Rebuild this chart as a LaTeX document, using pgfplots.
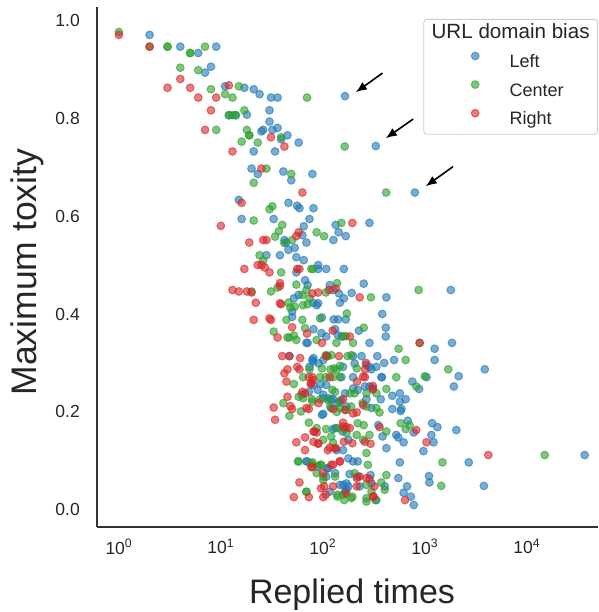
\documentclass[border=0pt]{standalone}
\usepackage{fontspec}
\setmainfont{Liberation Sans}
\usepackage{pgfplots}
\pgfplotsset{compat=1.18}
\usetikzlibrary{arrows.meta}
\definecolor{tabblue}{RGB}{31,119,180}
\definecolor{tabgreen}{RGB}{44,160,44}
\definecolor{tabred}{RGB}{214,39,40}
\definecolor{spine}{RGB}{51,51,51}
\definecolor{txt}{RGB}{38,38,38}
\definecolor{legframe}{RGB}{204,204,204}
\begin{document}
\begin{tikzpicture}
\begin{axis}[
  scale only axis, width=501pt, height=520pt,
  xmode=log, xmin=0.61, xmax=50000, ymin=-0.035, ymax=1.027,
  axis lines*=left,
  axis line style={-, line width=1.7pt, color=spine},
  xtick={1,10,100,1000,10000},
  xticklabels={10\textsuperscript{0},10\textsuperscript{1},10\textsuperscript{2},10\textsuperscript{3},10\textsuperscript{4}},
  minor xtick={},
  ytick={0,0.2,0.4,0.6,0.8,1.0},
  major tick length=0pt,
  tick style={draw=none},
  yticklabel style={/pgf/number format/fixed, /pgf/number format/fixed zerofill,
    /pgf/number format/precision=1, /pgf/number format/assume math mode=true,
    font=\fontsize{17.5}{20}\selectfont, text=txt, inner sep=0pt, xshift=-17pt},
  xticklabel style={font=\fontsize{17.5}{20}\selectfont, text=txt, inner sep=0pt, yshift=-12pt},
  xlabel={Replied times},
  ylabel={Maximum toxity},
  xlabel style={font=\fontsize{34}{39}\selectfont, text=txt, inner sep=0pt,
    at={(axis description cs:0.509,-0.148)}, anchor=base},
  ylabel style={font=\fontsize{35.5}{40}\selectfont, text=txt, inner sep=0pt,
    at={(axis description cs:-0.1198,0.49)}, anchor=base},
  clip=false,
  legend cell align=left,
  legend style={at={(1,1)}, anchor=north east, yshift=-12pt,
    draw=legframe, line width=0.8pt, rounded corners=3pt,
    fill=white, fill opacity=0.8, draw opacity=1, text opacity=1,
    inner xsep=8pt, inner ysep=5.5pt, row sep=9.2pt, column sep=0pt,
    font=\fontsize{18}{20}\selectfont, text=txt,
    nodes={inner sep=0pt, text height=14pt, text depth=4pt}},
  legend image code/.code={\path (0pt,0pt) (77pt,0pt); \draw[#1] plot coordinates {(43pt,6.5pt)};},
  every axis plot/.append style={only marks, mark=*, mark size=3.9pt,
    mark options={fill opacity=0.6, draw opacity=0.6, line width=1pt}},
]
\addlegendimage{empty legend}
% Left
\addplot[color=tabblue] coordinates {
(2,0.97) (4,0.946) (9,0.946) (6,0.933) (7,0.893) (8,0.905) (11,0.865) (17,0.862)
(21,0.859) (24,0.849) (31,0.842) (36,0.842) (165,0.845) (30,0.816) (12,0.806) (14,0.806)
(18,0.807) (30,0.793) (25,0.773) (26,0.776) (32,0.776) (36,0.78) (39,0.757) (45,0.765)
(58,0.75) (21,0.732) (34,0.732) (20,0.697) (23,0.686) (41,0.691) (49,0.673) (79,0.686)
(331,0.743) (800,0.648)
(15,0.633) (46,0.627) (56,0.621) (59,0.616) (81,0.616) (16,0.594) (33,0.594) (74,0.594)
(65,0.579) (134,0.582) (63,0.561) (143,0.567) (168,0.559) (127,0.551) (42,0.551) (44,0.546)
(69,0.546) (46,0.531) (53,0.535) (38,0.52) (28,0.52) (55,0.516) (65,0.51) (55,0.485)
(90,0.5) (90,0.492) (108,0.492) (161,0.492) (67,0.469) (71,0.459) (52,0.432) (58,0.439)
(117,0.459) (126,0.449) (144,0.442) (161,0.432) (147,0.423) (50,0.405) (50,0.394) (80,0.423)
(87,0.418) (90,0.422) (98,0.393) (128,0.389) (141,0.389) (168,0.389) (69,0.341) (71,0.341)
(81,0.369) (97,0.361) (108,0.354) (132,0.369) (153,0.354) (47,0.314) (79,0.306) (81,0.31)
(101,0.306)
(287,0.586) (252,0.462) (192,0.443) (420,0.434) (1800,0.449) (383,0.4) (415,0.372) (415,0.354)
(226,0.366) (140,0.357) (287,0.341) (1250,0.329) (1850,0.341) (198,0.314) (240,0.314) (342,0.314)
(500,0.306) (1250,0.306)
(74,0.292) (91,0.299) (80,0.255) (95,0.257) (108,0.255) (152,0.271) (73,0.241) (89,0.245)
(101,0.235) (113,0.228) (126,0.226) (98,0.194) (101,0.196) (121,0.208) (133,0.167) (156,0.16)
(70,0.099) (111,0.085) (117,0.037) (171,0.054) (178,0.143)
(2150,0.273) (1930,0.252) (3880,0.287) (1040,0.271) (755,0.262) (880,0.247) (380,0.271) (335,0.292)
(400,0.3) (268,0.296) (300,0.287) (480,0.233) (570,0.238) (650,0.226) (480,0.206) (580,0.202)
(590,0.206) (680,0.182) (780,0.158) (525,0.153) (620,0.138) (550,0.148) (1180,0.177) (1330,0.169)
(1160,0.153) (1220,0.138) (970,0.12) (2040,0.163) (37000,0.112) (2700,0.097) (570,0.097) (1100,0.069)
(1110,0.056) (3800,0.049) (550,0.065) (670,0.048) (620,0.035) (730,0.027) (780,0.01) (183,0.073)
(220,0.068) (294,0.071) (158,0.051) (178,0.048) (165,0.037) (330,0.02) (405,0.048) (350,0.173)
(385,0.15) (420,0.126) (300,0.208) (220,0.245) (259,0.252) (310,0.248) (198,0.248) (165,0.238)
(150,0.224) (171,0.211) (80,0.303) (158,0.292) (205,0.299) (287,0.292) (198,0.271) (375,0.271)
(287,0.252) (101,0.228) (121,0.226) (141,0.218) (268,0.226) (370,0.226) (570,0.221)
(126,0.165) (158,0.122) (136,0.122) (69,0.099) (90,0.088) (113,0.085) (108,0.068) (132,0.075)
(178,0.105) (198,0.099) (220,0.099) (171,0.041) (230,0.048) (147,0.051) (300,0.054)
};
% Center
\addplot[color=tabgreen] coordinates {
(1,0.976) (2,0.946) (3,0.946) (3,0.946) (7,0.946) (5,0.933) (5,0.933) (4,0.903)
(6,0.898) (8,0.859) (15,0.865) (11,0.849) (13,0.842) (70,0.842) (17,0.816) (12,0.806)
(13,0.806) (14,0.806) (9,0.776) (18,0.776) (19,0.765) (19,0.765) (39,0.761) (164,0.742)
(16,0.752) (23,0.75) (28,0.697) (21,0.668) (49,0.686) (418,0.648)
(30,0.614) (32,0.62) (21,0.591) (40,0.582) (152,0.586) (37,0.569) (34,0.558) (87,0.567)
(103,0.559) (50,0.551) (42,0.545) (24,0.52) (26,0.509) (39,0.485) (77,0.492) (80,0.492)
(55,0.46) (20,0.446) (31,0.446) (36,0.454) (63,0.439) (74,0.432) (69,0.449) (138,0.463)
(107,0.444) (46,0.423) (48,0.413) (53,0.415) (64,0.418) (71,0.42) (44,0.388) (63,0.388)
(94,0.391) (172,0.401) (33,0.364) (45,0.352) (47,0.352) (52,0.356) (55,0.347) (67,0.371)
(87,0.347) (136,0.341) (168,0.355) (111,0.314) (111,0.314)
(296,0.434) (870,0.449) (252,0.372) (158,0.354) (198,0.341) (554,0.329) (890,0.341) (175,0.314)
(650,0.306)
(52,0.257) (64,0.271) (98,0.289) (119,0.287) (129,0.289) (147,0.294) (94,0.271) (107,0.271)
(126,0.271) (147,0.271) (58,0.231) (64,0.228) (78,0.226) (94,0.226) (132,0.241) (124,0.245)
(41,0.218) (47,0.192) (61,0.201) (79,0.221) (137,0.2) (171,0.204) (73,0.178) (87,0.167)
(101,0.143) (108,0.165) (121,0.15) (139,0.167) (162,0.165) (58,0.099) (79,0.097) (94,0.092)
(101,0.068) (132,0.068) (69,0.037) (139,0.031) (162,0.02)
(1700,0.287) (1000,0.273) (525,0.271) (825,0.252) (420,0.247) (360,0.199) (335,0.208) (580,0.177)
(650,0.165) (710,0.173) (15000,0.112) (1490,0.097) (1450,0.049) (420,0.071) (268,0.051) (375,0.056)
(405,0.041) (268,0.017) (335,0.02) (195,0.027) (220,0.177) (252,0.173) (420,0.16) (205,0.238)
(268,0.238) (335,0.238) (147,0.221) (190,0.211) (245,0.218) (107,0.316) (121,0.316) (190,0.316)
(74,0.287) (137,0.286) (215,0.289) (184,0.238) (268,0.211)
(113,0.224) (118,0.211) (147,0.208) (62,0.235) (126,0.137) (171,0.157) (215,0.153) (249,0.143)
(287,0.153) (57,0.099) (77,0.095) (97,0.092) (87,0.075) (101,0.061) (205,0.075) (277,0.092)
(268,0.116) (69,0.037) (139,0.027) (158,0.031) (190,0.024) (300,0.037) (268,0.024)
};
% Right
\addplot[color=tabred] coordinates {
(1,0.97) (2,0.946) (4,0.88) (3,0.862) (5,0.862) (12,0.867) (6,0.842) (9,0.842)
(8,0.816) (7,0.776) (31,0.761) (42,0.742) (13,0.732) (25,0.697) (63,0.648)
(16,0.627) (10,0.58) (58,0.567) (55,0.559) (19,0.546) (26,0.551) (28,0.551) (23,0.5)
(25,0.5) (27,0.495) (30,0.485) (17,0.492) (56,0.492) (59,0.492) (38,0.463) (38,0.457)
(13,0.449) (15,0.446) (18,0.446) (20,0.444) (79,0.442) (90,0.444) (115,0.449) (134,0.452)
(22,0.423) (38,0.422) (39,0.42) (21,0.388) (30,0.391) (31,0.388) (50,0.373) (36,0.352)
(70,0.36) (98,0.341) (40,0.314) (47,0.314) (60,0.31) (144,0.314)
(195,0.586) (230,0.434) (125,0.366) (184,0.354) (891,0.341) (108,0.314)
(45,0.287) (42,0.279) (44,0.262) (56,0.292) (59,0.287) (73,0.271) (79,0.271) (77,0.259)
(117,0.271) (63,0.241) (67,0.238) (45,0.231) (158,0.226) (33,0.209) (34,0.184) (48,0.212)
(50,0.206) (69,0.208) (73,0.206) (91,0.218) (126,0.206) (81,0.16) (87,0.158) (90,0.136)
(112,0.122) (134,0.126) (55,0.138) (67,0.148) (67,0.122) (52,0.026) (73,0.026) (101,0.026)
(107,0.031) (79,0.088) (101,0.075) (126,0.092) (147,0.099) (59,0.056) (103,0.048) (126,0.048)
(168,0.034) (158,0.17)
(265,0.3) (259,0.287) (310,0.253) (825,0.163) (1040,0.138) (4200,0.112) (640,0.02) (230,0.068)
(287,0.063) (320,0.048) (315,0.027) (83,0.16) (81,0.139) (90,0.135) (117,0.127) (132,0.126)
(161,0.139) (195,0.136) (259,0.139) (294,0.135) (158,0.178) (171,0.169) (184,0.167) (215,0.199)
(360,0.169) (217,0.262) (249,0.272) (310,0.246) (165,0.204) (198,0.197) (249,0.214) (259,0.271)
(76,0.257) (80,0.265) (77,0.087) (121,0.092) (147,0.099) (215,0.065) (268,0.065) (96,0.044)
(215,0.048) (310,0.027)
};
\legend{{\hspace*{-78pt}\fontsize{20.6}{23}\selectfont URL domain bias},Left,Center,Right}
% arrows pointing at the three marked points
\draw[-{Latex[length=11pt,width=9pt]}, line width=1.6pt, black] (axis cs:385,0.892) -- (axis cs:211,0.853);
\draw[-{Latex[length=11pt,width=9pt]}, line width=1.6pt, black] (axis cs:768,0.798) -- (axis cs:415,0.759);
\draw[-{Latex[length=11pt,width=9pt]}, line width=1.6pt, black] (axis cs:1893,0.701) -- (axis cs:1023,0.661);
\end{axis}
\pgfresetboundingbox
\path[use as bounding box] (-97pt,-85pt) rectangle (501pt,527pt);
\end{tikzpicture}
\end{document}
